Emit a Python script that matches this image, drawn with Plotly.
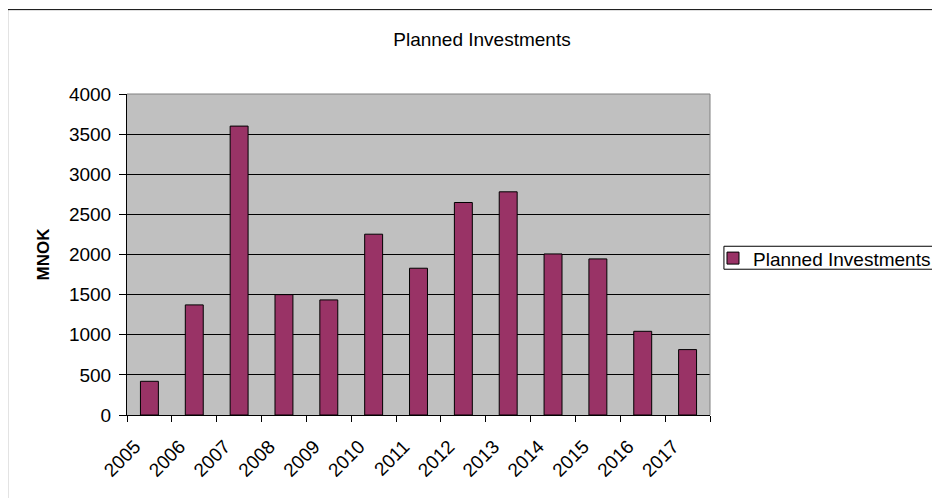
import plotly.graph_objects as go

years = ["2005", "2006", "2007", "2008", "2009", "2010", "2011",
         "2012", "2013", "2014", "2015", "2016", "2017"]
investments = [420, 1372, 3600, 1500, 1434, 2253, 1829,
               2648, 2781, 2007, 1945, 1043, 815]
y_ticks = [0, 500, 1000, 1500, 2000, 2500, 3000, 3500, 4000]

FONT = "Liberation Sans, Arial, sans-serif"
OFF = 8  # page body margin
W, H = 940, 498
# reference pixel positions of plot area
PX_L, PX_R, PX_T, PX_B = 127, 713, 93.5, 415
L = PX_L - OFF
T = PX_T - OFF
R = W - (PX_R - OFF)
B = H - (PX_B - OFF)
pw, ph = PX_R - PX_L, PX_B - PX_T

def px_x(p):
    return (p - PX_L) / pw

def px_y(p):
    return (PX_B - p) / ph

xpos = [i + 0.5 for i in range(len(years))]

fig = go.Figure()
fig.add_trace(go.Bar(
    x=xpos, y=investments, width=0.4, name="Planned Investments",
    marker=dict(color="#993366", line=dict(color="black", width=1)),
))

fig.update_layout(
    width=W, height=H,
    margin=dict(l=L, r=R, t=T, b=B),
    paper_bgcolor="white", plot_bgcolor="#C0C0C0",
    font=dict(family=FONT, color="black"),
    title=dict(text="Planned Investments", x=(482 - OFF) / W, xanchor="center",
               y=1 - (39 - OFF) / H, yanchor="middle",
               font=dict(size=19, family=FONT)),
    showlegend=True,
    legend=dict(x=px_x(716), y=px_y(258), xanchor="left", yanchor="middle",
                bgcolor="rgba(0,0,0,0)", borderwidth=0,
                font=dict(size=19, family=FONT)),
    xaxis=dict(range=[0, len(years)], tickmode="array",
               tickvals=list(range(len(years) + 1)),
               ticktext=years + [""],
               tickangle=-45, ticks="outside", ticklen=6, tickcolor="black",
               showline=True, linecolor="black", linewidth=1,
               showgrid=False, zeroline=False,
               ticklabelstandoff=6, ticklabelshift=8,
               tickfont=dict(size=19, family=FONT)),
    yaxis=dict(range=[0, 4000], tickvals=y_ticks,
               ticks="outside", ticklen=7, tickcolor="black",
               showline=True, linecolor="black", linewidth=1,
               showgrid=True, gridcolor="black", gridwidth=1,
               zeroline=False, ticklabelstandoff=4,
               tickfont=dict(size=19, family=FONT),
               title=dict(text="<b>MNOK</b>", font=dict(size=17, family=FONT),
                          standoff=14)),
    shapes=[
        dict(type="line", xref="paper", yref="paper", x0=0, x1=1, y0=1, y1=1,
             line=dict(color="#808080", width=1)),
        dict(type="line", xref="paper", yref="paper", x0=1, x1=1, y0=0, y1=1,
             line=dict(color="#808080", width=1)),
        dict(type="rect", xref="paper", yref="paper",
             x0=px_x(7), x1=px_x(960), y0=px_y(520), y1=px_y(9),
             line=dict(color="black", width=1), layer="below"),
        dict(type="rect", xref="paper", yref="paper",
             x0=px_x(727), x1=px_x(960), y0=px_y(269), y1=px_y(246),
             line=dict(color="black", width=1), fillcolor="white",
             layer="below"),
    ],
)

fig.write_html("out.html")
